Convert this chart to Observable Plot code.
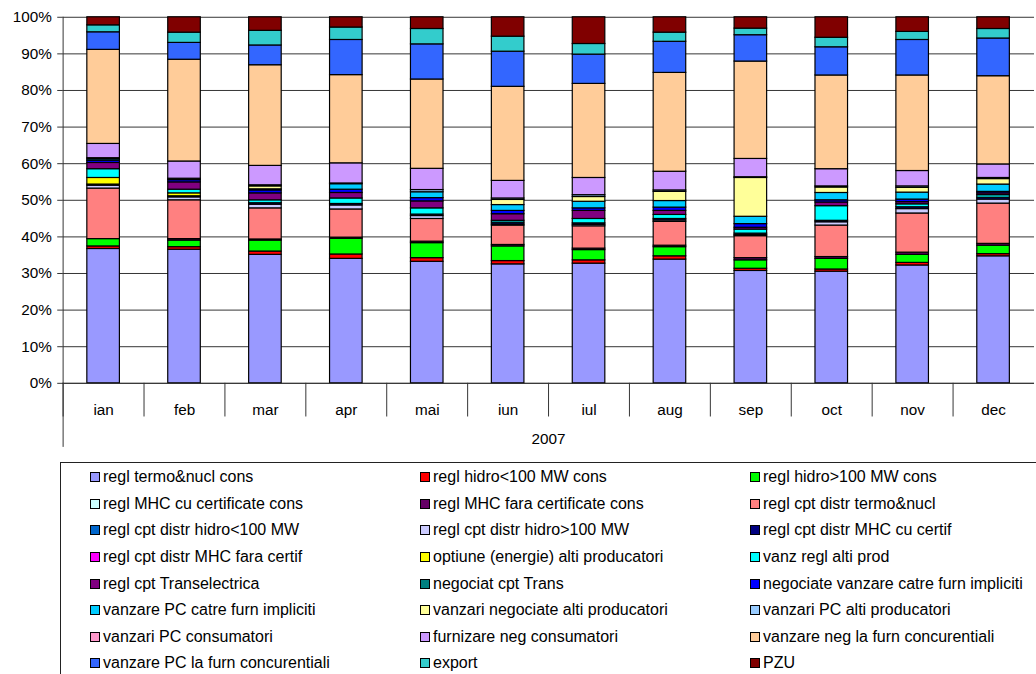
<!DOCTYPE html>
<html>
<head>
<meta charset="utf-8">
<script src="https://cdn.jsdelivr.net/npm/d3@7"></script>
<script src="https://cdn.jsdelivr.net/npm/@observablehq/plot@0.6"></script>
<style>
  html, body { margin: 0; padding: 0; background: #fff; overflow: hidden; width: 1036px; height: 674px; }
  #chart { position: absolute; left: 0; top: 0; }
  #legend {
    position: absolute; left: 60px; top: 462px; width: 1000px; height: 240px;
    border-top: 1px solid #222; border-left: 1px solid #222; box-sizing: border-box;
    display: grid; grid-template-columns: 330px 330px 330px; grid-auto-rows: 26.6px;
    padding: 1px 0 0 29px;
    font-family: "Liberation Sans", Arial, sans-serif; font-size: 16px; color: #000;
  }
  .item { display: flex; align-items: center; white-space: nowrap; }
  .sw { width: 8px; height: 8px; border: 1px solid #000; margin-right: 3px; flex: none; }
</style>
</head>
<body>
<div id="chart"></div>
<div id="legend"></div>
<script>
const months = ["ian","feb","mar","apr","mai","iun","iul","aug","sep","oct","nov","dec"];
const yearLabel = "2007";
const yTicks = [0, 0.1, 0.2, 0.3, 0.4, 0.5, 0.6, 0.7, 0.8, 0.9, 1];

const seriesNames = [
  "regl termo&nucl cons", "regl hidro<100 MW cons", "regl hidro>100 MW cons",
  "regl MHC cu certificate cons", "regl MHC fara certificate cons", "regl cpt distr termo&nucl",
  "regl cpt distr hidro<100 MW", "regl cpt distr hidro>100 MW", "regl cpt distr MHC cu certif",
  "regl cpt distr MHC fara certif", "optiune (energie) alti producatori", "vanz regl alti prod",
  "regl cpt Transelectrica", "negociat cpt Trans", "negociate vanzare catre furn impliciti",
  "vanzare PC catre furn impliciti", "vanzari negociate alti producatori", "vanzari PC alti producatori",
  "vanzari PC consumatori", "furnizare neg consumatori", "vanzare neg la furn concurentiali",
  "vanzare PC la furn concurentiali", "export", "PZU"
];
const seriesColors = [
  "#9999FF", "#FF0000", "#00FF00",
  "#CCFFFF", "#660066", "#FF8080",
  "#0066CC", "#CCCCFF", "#000080",
  "#FF00FF", "#FFFF00", "#00FFFF",
  "#800080", "#008080", "#0000FF",
  "#00CCFF", "#FFFF99", "#99CCFF",
  "#FF99CC", "#CC99FF", "#FFCC99",
  "#3366FF", "#33CCCC", "#800000"
];

// values in % per month (ian..dec)
const reglTermoNuclCons      = [36.7, 36.5, 35.1, 34.0, 33.2, 32.5, 32.7, 33.8, 30.7, 30.5, 32.2, 34.7];
const reglHidroSub100Cons    = [0.7, 0.7, 0.9, 1.2, 1.0, 0.9, 0.9, 0.9, 0.6, 0.6, 0.7, 0.6];
const reglHidroPeste100Cons  = [2.0, 1.8, 3.0, 4.3, 4.1, 4.0, 2.8, 2.5, 2.3, 2.9, 2.2, 2.3];
const reglMhcCuCertCons      = [0, 0, 0, 0, 0, 0, 0, 0, 0, 0, 0, 0];
const reglMhcFaraCertCons    = [0, 0.4, 0.3, 0.3, 0.4, 0.4, 0.4, 0.4, 0.6, 0.5, 0.6, 0.5];
const reglCptDistrTermo      = [13.8, 10.6, 8.5, 7.7, 6.2, 5.3, 6.1, 6.5, 6.0, 8.6, 10.7, 11.0];
const reglCptDistrHidroSub   = [0, 0, 0, 0, 0, 0, 0, 0, 0, 0, 0, 0];
const reglCptDistrHidroPeste = [0.8, 0.8, 1.0, 1.1, 0.8, 0.3, 0.4, 0.4, 0.3, 0.9, 1.2, 1.1];
const reglCptDistrMhcCu      = [0.3, 0.3, 0.4, 0.4, 0.4, 0.5, 0.4, 0.4, 0.4, 0.4, 0.5, 0.5];
const reglCptDistrMhcFara    = [0, 0, 0, 0, 0, 0, 0, 0, 0, 0, 0, 0];
const optiuneAltiProd        = [1.8, 0.8, 0, 0, 0, 0, 0, 0, 0, 0, 0, 0];
const vanzReglAltiProd       = [2.4, 1.0, 0.8, 1.5, 1.7, 0.5, 1.2, 1.1, 1.1, 4.0, 0.8, 0.7];
const reglCptTranselectrica  = [1.7, 2.0, 1.9, 1.5, 1.9, 1.8, 2.2, 1.1, 0.5, 1.0, 0.6, 0.5];
const negociatCptTrans       = [0, 0, 0, 0, 0, 0, 0, 0, 0, 0, 0, 0];
const negociateVanzFurnImpl  = [0.6, 0.6, 0.8, 0.9, 0.9, 0.9, 0.7, 0.9, 1.0, 0.6, 0.7, 0.4];
const vanzPcFurnImpl         = [0.4, 0.2, 0.3, 1.5, 1.6, 1.6, 1.8, 1.8, 2.0, 2.0, 1.9, 2.0];
const vanzNegAltiProd        = [0, 0, 0.8, 0, 0, 1.4, 1.3, 2.5, 10.6, 1.5, 1.3, 1.5];
const vanzPcAltiProd         = [0.3, 0.2, 0.3, 0.2, 0.6, 0.4, 0.5, 0.4, 0.2, 0.3, 0.4, 0.3];
const vanzPcConsumatori      = [0, 0, 0, 0, 0, 0, 0, 0, 0, 0, 0, 0];
const furnizareNegCons       = [3.9, 4.7, 5.3, 5.5, 5.8, 4.8, 4.7, 5.1, 5.0, 4.7, 4.2, 3.7];
const vanzNegFurnConc        = [25.7, 27.8, 27.5, 24.1, 24.4, 25.7, 25.7, 27.0, 26.6, 25.6, 26.1, 24.1];
const vanzPcFurnConc         = [4.8, 4.6, 5.4, 9.6, 9.6, 9.6, 8.0, 8.5, 7.2, 7.7, 9.7, 10.3];
const exportVals             = [1.9, 2.8, 4.0, 3.4, 4.2, 4.1, 2.9, 2.5, 1.8, 2.6, 2.2, 2.6];
const pzu                    = [2.2, 4.2, 3.7, 2.8, 3.2, 5.3, 7.3, 4.2, 3.1, 5.6, 4.0, 3.2];

const seriesValues = [
  reglTermoNuclCons, reglHidroSub100Cons, reglHidroPeste100Cons, reglMhcCuCertCons,
  reglMhcFaraCertCons, reglCptDistrTermo, reglCptDistrHidroSub, reglCptDistrHidroPeste,
  reglCptDistrMhcCu, reglCptDistrMhcFara, optiuneAltiProd, vanzReglAltiProd,
  reglCptTranselectrica, negociatCptTrans, negociateVanzFurnImpl, vanzPcFurnImpl,
  vanzNegAltiProd, vanzPcAltiProd, vanzPcConsumatori, furnizareNegCons,
  vanzNegFurnConc, vanzPcFurnConc, exportVals, pzu
];

const rows = [];
seriesNames.forEach((name, i) => {
  months.forEach((m, j) => rows.push({month: m, series: name, value: seriesValues[i][j]}));
});

const W = 1050, H = 460, ML = 63, MR = 2, MT = 17, MB = 72;
const halfStep = (W - ML - MR) / months.length / 2;

const chart = Plot.plot({
  width: W, height: H,
  marginLeft: ML, marginRight: MR, marginTop: MT, marginBottom: MB,
  style: {fontFamily: "'Liberation Sans', Arial, sans-serif", fontSize: "15.5px", color: "#000", background: "#fff"},
  x: {domain: months, paddingInner: 0.6, paddingOuter: 0.3, label: null},
  y: {domain: [0, 1], label: null},
  color: {domain: seriesNames, range: seriesColors},
  marks: [
    Plot.gridY(yTicks, {stroke: "#333", strokeOpacity: 1, strokeWidth: 1}),
    Plot.barY(rows, Plot.stackY({offset: "normalize"}, {
      x: "month", y: "value", fill: "series", stroke: "#000", strokeWidth: 1.2
    })),
    Plot.ruleY([0], {stroke: "#333"}),
    Plot.ruleX(months, {x: d => d, dx: -halfStep, y1: 0, y2: -0.092, stroke: "#333"}),
    Plot.ruleX([months[0]], {x: d => d, dx: -halfStep, y1: 1, y2: -0.175, stroke: "#333"}),
    Plot.axisY(yTicks, {tickFormat: d3.format(".0%"), tickSize: 5, tickPadding: 6, fontSize: 15.5, stroke: "#333"}),
    Plot.axisX({tickSize: 0, tickPadding: 21, fontSize: 15.5}),
    Plot.text([yearLabel], {frameAnchor: "bottom", dy: 62, dx: 0, fontSize: 15.5, fill: "#000"})
  ]
});
document.getElementById("chart").appendChild(chart);

const legend = document.getElementById("legend");
seriesNames.forEach((name, i) => {
  const it = document.createElement("div");
  it.className = "item";
  const sw = document.createElement("span");
  sw.className = "sw";
  sw.style.background = seriesColors[i];
  const tx = document.createElement("span");
  tx.textContent = name;
  it.appendChild(sw); it.appendChild(tx);
  legend.appendChild(it);
});
</script>
</body>
</html>
